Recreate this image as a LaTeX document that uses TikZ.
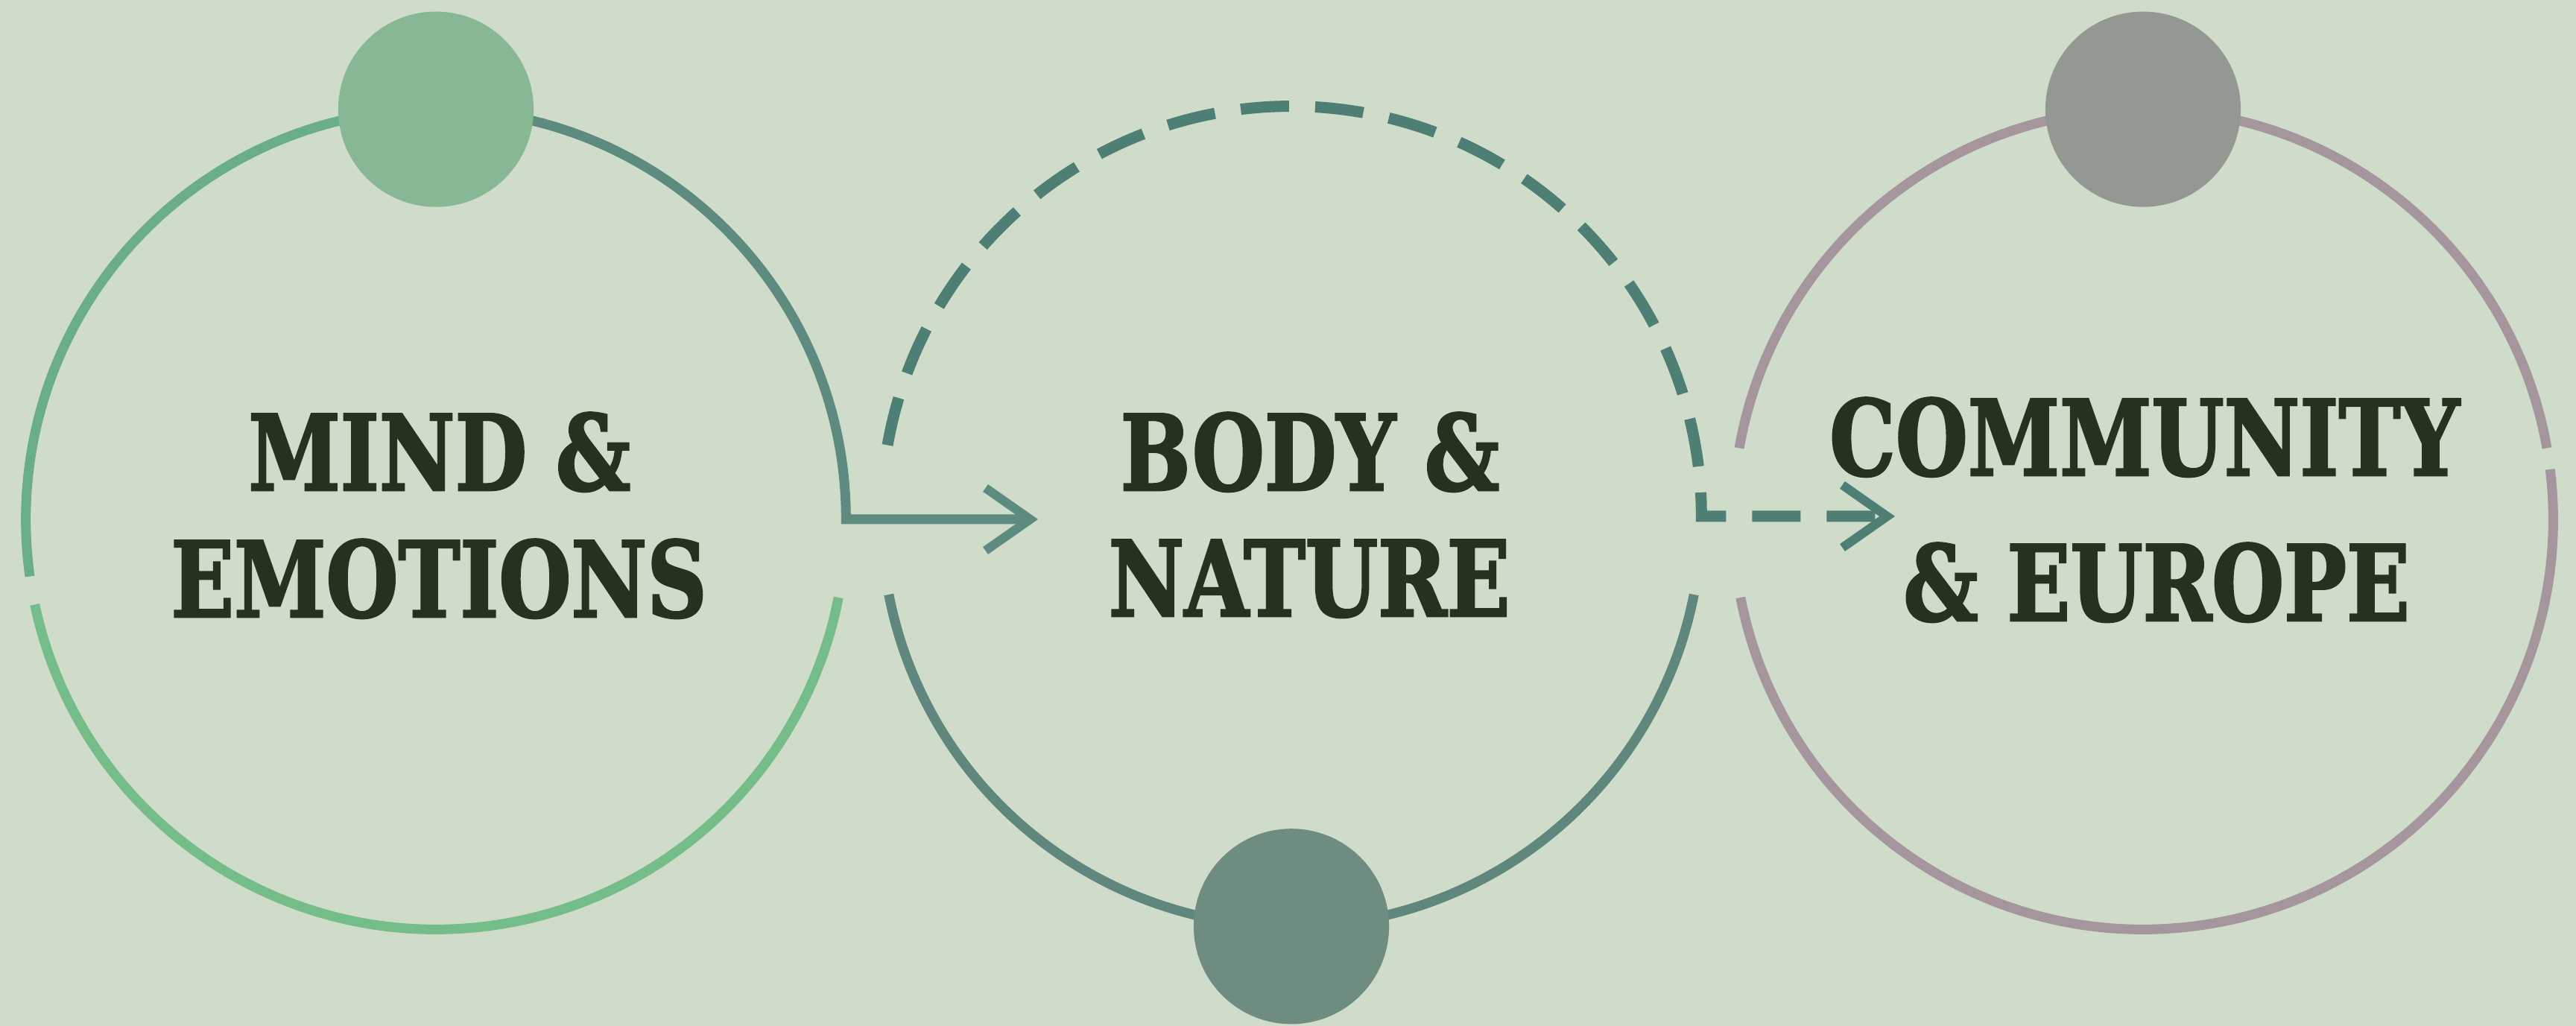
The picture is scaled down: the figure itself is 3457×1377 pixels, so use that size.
\documentclass[tikz,border=0pt]{standalone}
\usepackage{fontspec}
\newfontfamily\slab{DejaVu Serif Condensed}[BoldFont={DejaVu Serif Condensed Bold}, BoldFeatures={FakeBold=2}]
\usetikzlibrary{arrows.meta}
\definecolor{bg}{HTML}{CFDCC9}
\definecolor{ink}{HTML}{26321E}
\definecolor{lgreenA}{HTML}{6AAE88}
\definecolor{lgreenB}{HTML}{74BC88}
\definecolor{lteal}{HTML}{5E8B80}
\definecolor{mdash}{HTML}{4E7F74}
\definecolor{msolid}{HTML}{5F877D}
\definecolor{rmauve}{HTML}{A5969E}
\definecolor{dotL}{HTML}{87B893}
\definecolor{dotM}{HTML}{6E8C80}
\definecolor{dotR}{HTML}{949892}
\newcommand{\narrowtxt}[1]{\scalebox{0.88}[1]{#1}}
\begin{document}
\begin{tikzpicture}[x=0.01cm,y=0.01cm,
  ring/.style={circle, minimum size=11cm, inner sep=0pt, outer sep=0pt, draw=none},
  dotnode/.style={circle, minimum size=2.62cm, inner sep=0pt, outer sep=0pt, draw=none},
  arcline/.style={line width=0.13cm},
  dashline/.style={line width=0.15cm, dash pattern=on 0.65cm off 0.35cm},
  barb/.style={-{Straight Barb[length=0.6cm,width=0.84cm,line width=0.12cm]}},
  txt/.style={font=\slab\bfseries\fontsize{40}{48}\selectfont, text=ink, inner sep=0pt, anchor=base}]
\fill[bg] (0,0) rectangle (3457,1377);
\useasboundingbox (0,0) rectangle (3457,1377);

\node[ring] (L) at (585,680) {};
\node[ring] (M) at (1733,684) {};
\node[ring] (R) at (2876,680) {};
\coordinate (a1) at (1393,680);
\coordinate (a2) at (2543,684);

% left circle
\draw[arcline, lgreenA] (L.90) arc[start angle=90, end angle=188, radius=5.5cm];
\draw[arcline, lgreenB] (L.192) arc[start angle=192, end angle=349, radius=5.5cm];
\draw[arcline, lteal, barb] (L.90) arc[start angle=90, end angle=0, radius=5.5cm] -- (a1);

% middle circle
\draw[dashline, mdash, barb] (M.170) arc[start angle=170, end angle=0, radius=5.5cm] -- (a2);
\draw[arcline, msolid] (M.191) arc[start angle=191, end angle=349, radius=5.5cm];

% right circle
\draw[arcline, rmauve] (R.90) arc[start angle=90, end angle=170, radius=5.5cm];
\draw[arcline, rmauve] (R.191) arc[start angle=191, end angle=367, radius=5.5cm];
\draw[arcline, rmauve] (R.10) arc[start angle=10, end angle=90, radius=5.5cm];

% dots
\node[dotnode, fill=dotL] (dL) at (L.90) {};
\node[dotnode, fill=dotM] (dM) at (M.270) {};
\node[dotnode, fill=dotR] (dR) at (R.90) {};

% texts
\node[txt] (t1) at (590,719) {\narrowtxt{MIND \&}};
\node[txt] (t2) at (589,549) {\narrowtxt{EMOTIONS}};
\node[txt] (t3) at (1758,719) {\narrowtxt{BODY \&}};
\node[txt] (t4) at (1757,550) {\narrowtxt{NATURE}};
\node[txt] (t5) at (2878,739) {\narrowtxt{COMMUNITY}};
\node[txt] (t6) at (2894,544) {\narrowtxt{\& EUROPE}};
\end{tikzpicture}
\end{document}
